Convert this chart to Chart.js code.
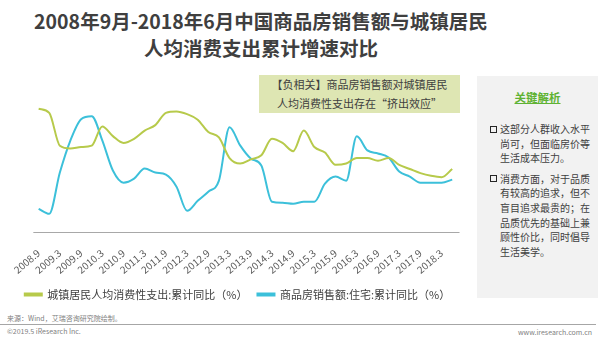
<!DOCTYPE html>
<html>
<head>
<meta charset="utf-8">
<script src="https://cdn.jsdelivr.net/npm/chart.js@4"></script>
<style>
  body { margin: 0; background: #fff; font-family: "Noto Sans CJK SC", "Noto Sans", sans-serif; color: #404040; }
  #page { position: relative; width: 600px; height: 340px; overflow: hidden; }
  .title { position: absolute; left: 0; top: 7px; width: 522px; text-align: center; font-size: 19.5px; font-weight: bold; line-height: 27px; color: #3f3f3f; }
  #wrap { position: absolute; left: 0; top: 70px; width: 475px; height: 240px; }
  .note { position: absolute; left: 259px; top: 75px; width: 201px; height: 38px; background: #dee6b3; font-size: 11px; line-height: 19px; text-align: center; }
  .side { position: absolute; left: 477px; top: 76px; width: 121px; height: 222px; background: #f2f2f2; font-size: 10px; line-height: 14.6px; }
  .side h4 { margin: 13px 0 0; text-align: center; font-size: 11.5px; line-height: 16px; color: #5fb233; text-decoration: underline; }
  .side .item { position: relative; padding-left: 23px; margin-top: 6px; }
  .side .item:first-of-type { margin-top: 17px; }
  .side .item::before { content: ""; position: absolute; left: 13px; top: 3.5px; width: 5px; height: 5px; border: 1.3px solid #262626; }
  .src { position: absolute; left: 7px; font-size: 7px; color: #808080; line-height: 10px; }
  .rule { position: absolute; left: 0; top: 324px; width: 596px; height: 1px; background: #a6a6a6; }
</style>
</head>
<body>
<div id="page">
  <div class="title">2008年9月-2018年6月中国商品房销售额与城镇居民<br>人均消费支出累计增速对比</div>
  <div id="wrap"><canvas id="myChart" width="475" height="240"></canvas></div>
  <div class="note">【负相关】商品房销售额对城镇居民<br>人均消费性支出存在“挤出效应”</div>
  <div class="side">
    <h4>关键解析</h4>
    <div class="item">这部分人群收入水平<br>尚可，但面临房价等<br>生活成本压力。</div>
    <div class="item">消费方面，对于品质<br>有较高的追求，但不<br>盲目追求最贵的；在<br>品质优先的基础上兼<br>顾性价比，同时倡导<br>生活美学。</div>
  </div>
  <div class="src" style="top:313px">来源：Wind，艾瑞咨询研究院绘制。</div>
  <div class="rule"></div>
  <div class="src" style="top:326px">©2019.5 iResearch Inc.</div>
  <div class="src" style="top:327px; left:auto; right:8px">www.iresearch.com.cn</div>
</div>
<script>
// quarterly points, 2008.9 .. 2018.6
const quarters = [
  '2008.9', '2008.12', '2009.3', '2009.6', '2009.9', '2009.12', '2010.3', '2010.6',
  '2010.9', '2010.12', '2011.3', '2011.6', '2011.9', '2011.12', '2012.3', '2012.6',
  '2012.9', '2012.12', '2013.3', '2013.6', '2013.9', '2013.12', '2014.3', '2014.6',
  '2014.9', '2014.12', '2015.3', '2015.6', '2015.9', '2015.12', '2016.3', '2016.6',
  '2016.9', '2016.12', '2017.3', '2017.6', '2017.9', '2017.12', '2018.3', '2018.6'
];

// 城镇居民人均消费性支出:累计同比(%)
const consumption = [
  13.0, 12.7, 10.3, 10.1, 10.2, 10.3, 11.7, 11.0,
  10.5, 10.8, 11.4, 11.8, 12.7, 12.8, 12.6, 12.2,
  11.3, 10.9, 9.4, 9.0, 9.3, 9.6, 10.8, 10.5,
  9.9, 11.4, 10.2, 9.8, 8.9, 9.0, 9.4, 9.4,
  9.2, 9.4, 8.9, 8.6, 8.3, 8.1, 8.0, 8.6
];

// 商品房销售额:住宅:累计同比(%)
const housingSales = [
  -13, -18, 23, 55, 76, 79, 55, 25,
  13, 17, 27, 23, 21, 9, -15, -5,
  4, 15, 68, 50, 37, 30, -6, -7,
  -8, -6, -6, 12, 19, 15, 59, 45,
  42, 38, 24, 19, 13, 13, 13, 16
];

const seriesNames = ['城镇居民人均消费性支出:累计同比（%）', '商品房销售额:住宅:累计同比（%）'];

const green = '#b7ca4b';
const blue = '#3cc0da';

// invisible side axes, only used to reserve margin around the plot
const hiddenAxis = (min, max, position, width) => ({
    position: position,
    min: min,
    max: max,
    ticks: { display: false },
    grid: { display: false },
    border: { display: false },
    afterFit: scale => { scale.width = width; }
});

// gray base line under the plot
const baseLine = {
    id: 'baseLine',
    afterDatasetsDraw(chart) {
        const { ctx, chartArea } = chart;
        const y = Math.round(chartArea.bottom) + 0.5;
        ctx.save();
        ctx.strokeStyle = '#a8a8a8';
        ctx.lineWidth = 1;
        ctx.beginPath();
        ctx.moveTo(chartArea.left, y);
        ctx.lineTo(chartArea.right + 2, y);
        ctx.stroke();
        ctx.restore();
    }
};

const ctx = document.getElementById('myChart');
const myChart = new Chart(ctx, {
    type: 'line',
    data: {
        labels: quarters,
        datasets: [{
            label: seriesNames[0],
            data: consumption,
            borderColor: green,
            backgroundColor: green,
            borderWidth: 2,
            pointRadius: 0,
            cubicInterpolationMode: 'monotone',
            yAxisID: 'y'
        },
        {
            label: seriesNames[1],
            data: housingSales,
            borderColor: blue,
            backgroundColor: blue,
            borderWidth: 2,
            pointRadius: 0,
            cubicInterpolationMode: 'monotone',
            yAxisID: 'y1'
        }]
    },
    plugins: [baseLine],
    options: {
        responsive: false,
        animation: false,
        layout: { padding: { left: 0, right: 0, top: 25, bottom: 0 } },
        plugins: {
            title: { display: false },
            tooltip: { enabled: false },
            legend: {
                position: 'bottom',
                labels: {
                    boxWidth: 17,
                    boxHeight: 2,
                    padding: 10,
                    color: '#404040',
                    font: { size: 11, family: '"Noto Sans CJK SC", sans-serif' }
                }
            }
        },
        scales: {
            x: {
                offset: true,
                grid: { display: false, drawTicks: false },
                border: { display: false },
                ticks: {
                    autoSkip: false,
                    maxRotation: 40,
                    minRotation: 40,
                    padding: 15,
                    color: '#595959',
                    font: { size: 10, family: '"Noto Sans CJK SC", sans-serif' },
                    callback: (v, i) => i % 2 === 0 ? quarters[i] : ''
                },
                afterFit: scale => { scale.height = 47; }
            },
            y: hiddenAxis(4, 14, 'left', 28),
            y1: hiddenAxis(-36, 100, 'right', 10)
        }
    }
});
</script>
</body>
</html>
